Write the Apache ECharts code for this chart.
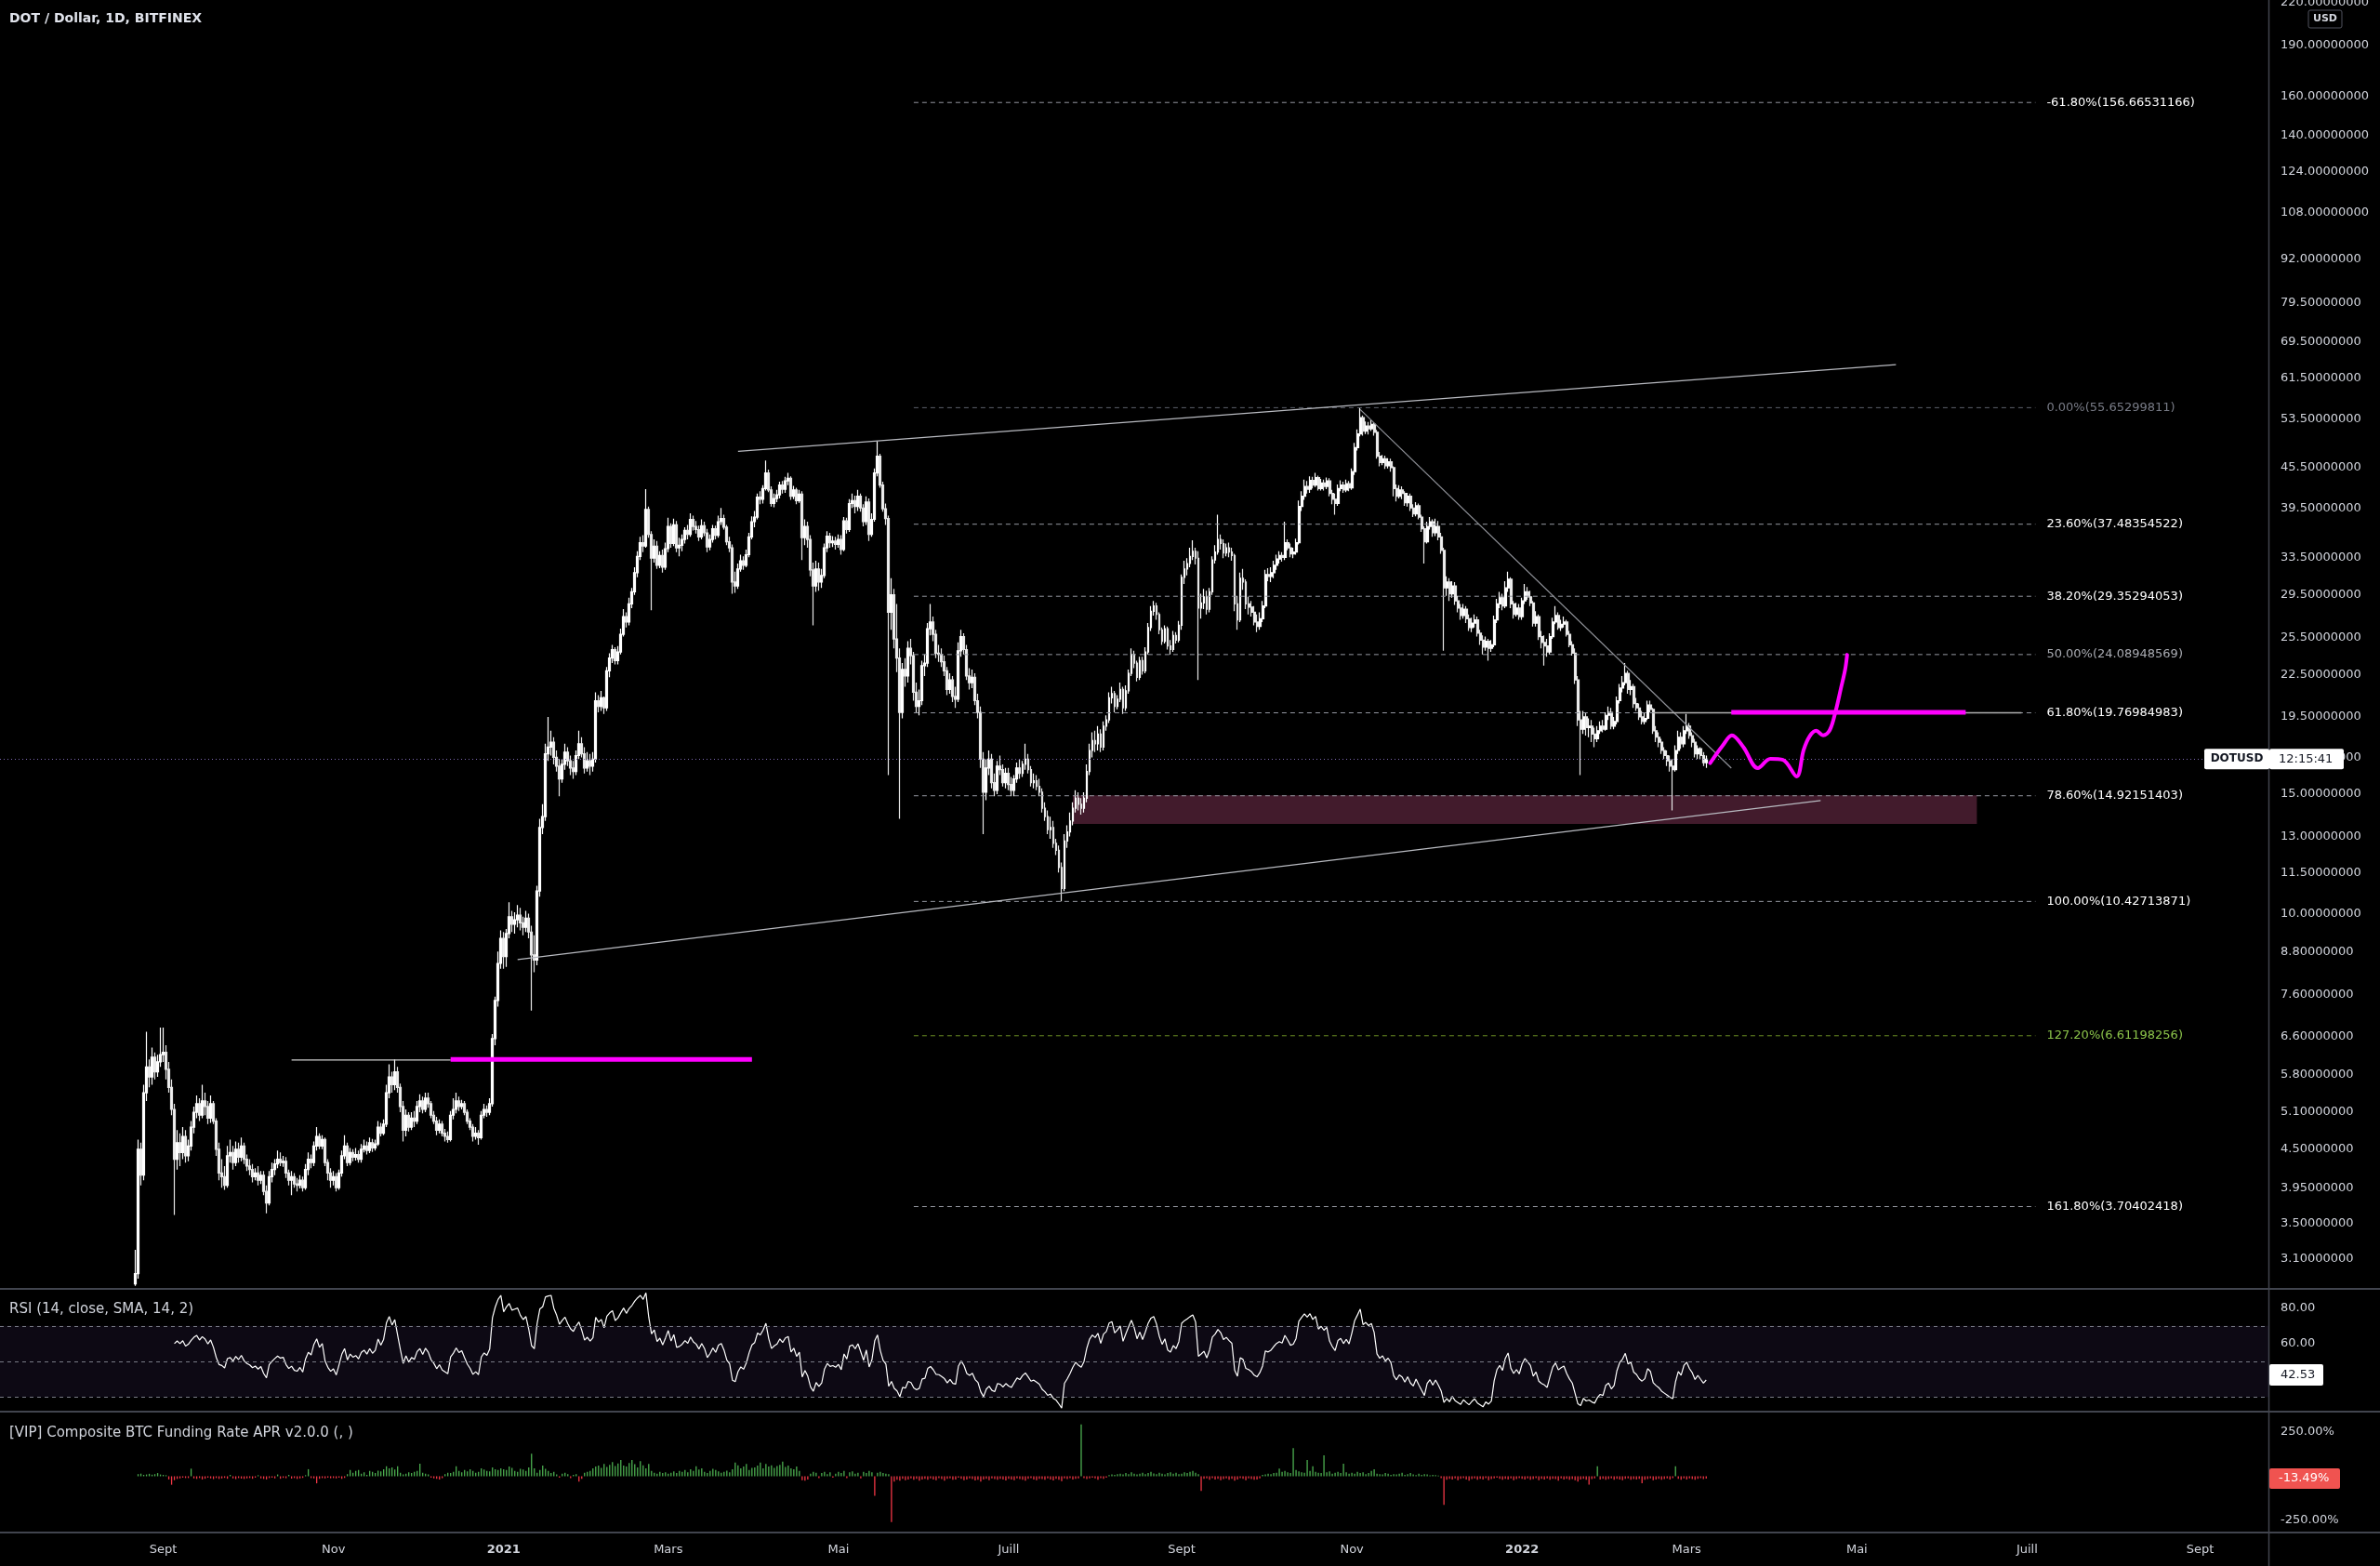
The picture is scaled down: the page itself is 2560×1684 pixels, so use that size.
<!DOCTYPE html>
<html><head><meta charset="utf-8">
<script src="https://cdn.jsdelivr.net/npm/echarts@6/dist/echarts.min.js"></script>
<style>html,body{margin:0;padding:0;background:#000;}#c{width:2560px;height:1684px;}</style>
</head><body><div id="c"></div>
<script>
// ---------- axis range / categories ----------
const START_DATE = '2020-07-05';
const N_DAYS = 813;
const FIRST_CANDLE = '2020-08-22';
const FIRST_OPEN = 2.85;
const PRICE_MIN = 2.802, PRICE_MAX = 221.8;
const RSI_MIN = 21.9, RSI_MAX = 90.8;
const FUND_MIN = -318.4, FUND_MAX = 365.8;

// ---------- daily closes / highs / lows (open = previous close) ----------
const close_2020_08 = [2.95,4.50,4.12,5.45,5.95,5.75,6.15,5.85,6.05,6.20];
const high_2020_08  = [3.20,4.65,4.60,5.60,6.70,6.10,6.35,6.25,6.20,6.80];
const low_2020_08   = [2.83,2.90,3.98,4.05,5.30,5.55,5.60,5.70,5.75,5.95];
const close_2020_09 = [6.25,5.90,5.55,5.15,4.35,4.60,4.45,4.70,4.40,4.55,4.85,5.10,5.25,5.05,5.30,5.20,5.00,5.25,4.95,4.50,4.15,4.10,3.98,4.40,4.45,4.30,4.50,4.38,4.55,4.35];
const high_2020_09  = [6.80,6.40,6.05,5.70,5.25,4.80,4.75,4.85,4.80,4.65,4.95,5.20,5.40,5.35,5.60,5.45,5.30,5.40,5.30,5.00,4.60,4.35,4.25,4.55,4.65,4.55,4.62,4.60,4.68,4.60];
const low_2020_09   = [6.05,5.70,5.45,5.05,3.60,4.20,4.25,4.35,4.30,4.32,4.48,4.75,5.00,4.95,5.00,5.05,4.90,4.92,4.90,4.40,4.05,3.95,3.92,3.95,4.30,4.20,4.25,4.30,4.32,4.28];
const close_2020_10 = [4.25,4.20,4.10,4.15,4.05,4.12,3.90,3.75,4.10,4.20,4.28,4.35,4.30,4.32,4.15,4.05,4.10,4.00,3.98,4.05,3.95,4.20,4.35,4.30,4.55,4.70,4.55,4.65,4.30,4.15,4.05];
const high_2020_10  = [4.42,4.35,4.28,4.22,4.25,4.18,4.18,3.98,4.18,4.30,4.35,4.48,4.45,4.40,4.38,4.20,4.18,4.15,4.08,4.12,4.10,4.28,4.45,4.42,4.62,4.85,4.75,4.72,4.68,4.35,4.22];
const low_2020_10   = [4.18,4.12,4.02,4.05,3.98,4.00,3.85,3.62,3.72,4.02,4.12,4.22,4.25,4.24,4.08,3.98,3.85,3.95,3.90,3.94,3.90,3.92,4.12,4.22,4.25,4.48,4.50,4.50,4.25,4.05,3.95];
const close_2020_11 = [4.10,3.95,4.15,4.40,4.55,4.30,4.45,4.38,4.42,4.35,4.50,4.55,4.48,4.60,4.52,4.58,4.85,4.75,4.90,5.45,5.75,5.60,5.85,5.55,5.20,4.80,5.05,4.85,5.00,4.95];
const high_2020_11  = [4.18,4.15,4.20,4.48,4.72,4.60,4.52,4.50,4.52,4.48,4.58,4.65,4.62,4.68,4.66,4.65,4.95,4.92,4.98,5.60,6.00,5.85,6.10,5.95,5.62,5.30,5.15,5.10,5.10,5.12];
const low_2020_11   = [3.98,3.90,3.92,4.10,4.35,4.25,4.26,4.32,4.33,4.30,4.30,4.45,4.42,4.44,4.46,4.48,4.55,4.70,4.72,4.85,5.35,5.45,5.50,5.45,5.10,4.62,4.70,4.78,4.80,4.85];
const close_2020_12 = [5.20,5.30,5.15,5.35,5.25,5.05,4.95,4.80,4.90,4.75,4.70,4.65,5.05,5.15,5.30,5.20,5.25,5.10,4.95,4.85,4.70,4.75,4.68,5.05,5.15,5.10,5.25,6.55,7.45,8.45,9.20];
const high_2020_12  = [5.30,5.42,5.38,5.45,5.45,5.30,5.12,5.02,4.98,4.95,4.82,4.78,5.12,5.35,5.45,5.38,5.32,5.30,5.15,5.00,4.90,4.85,4.80,5.12,5.25,5.22,5.35,6.65,7.55,8.80,9.45];
const low_2020_12   = [4.90,5.10,5.08,5.10,5.18,5.00,4.90,4.72,4.75,4.70,4.62,4.60,4.62,4.98,5.08,5.12,5.15,5.05,4.90,4.80,4.62,4.65,4.57,4.65,5.00,5.02,5.05,5.20,6.40,7.30,8.30];
const close_2021_01 = [8.65,9.35,9.90,9.65,9.80,9.95,9.70,9.55,9.85,9.40,8.70,8.55,10.80,13.40,13.90,17.20,17.60,17.90,17.00,16.50,15.80,16.60,17.30,16.80,16.40,16.20,17.10,17.80,17.20,16.40,16.80];
const high_2021_01  = [9.40,9.50,10.40,10.10,10.05,10.30,10.20,9.90,10.10,10.00,9.60,9.30,11.00,13.80,14.50,17.80,19.50,18.60,18.20,17.40,16.90,16.90,17.80,17.60,17.10,16.80,17.40,18.60,18.20,17.60,17.30];
const low_2021_01   = [8.30,8.35,9.20,9.40,9.35,9.55,9.45,9.30,9.40,9.20,7.20,8.20,8.40,10.60,13.10,13.70,16.80,17.10,16.60,16.20,14.90,15.60,16.30,16.50,16.00,15.80,16.00,16.90,17.00,16.10,16.20];
const close_2021_02 = [16.50,16.90,20.60,20.20,20.80,20.10,22.80,23.80,24.50,23.60,24.30,25.80,27.40,26.90,28.60,29.80,31.80,33.60,35.20,34.80,39.40,36.20,33.40,34.80,32.60,33.70,32.40,34.50];
const high_2021_02  = [17.20,17.30,21.20,21.00,21.30,20.90,23.10,24.20,24.90,24.70,24.80,26.30,28.10,27.80,29.20,30.20,32.40,34.20,35.90,36.10,42.20,39.80,36.60,35.60,35.40,34.20,34.40,35.20];
const low_2021_02   = [16.00,16.20,16.70,19.80,19.90,19.70,19.90,22.30,23.40,23.30,23.30,24.10,25.60,26.40,26.60,28.20,29.50,31.30,33.20,34.10,34.60,35.80,28.00,32.90,32.20,32.30,31.80,32.10];
const close_2021_03 = [37.20,35.10,37.40,34.60,34.90,35.60,36.70,36.20,38.10,37.20,36.80,35.90,37.30,36.40,34.70,35.60,36.90,36.10,37.80,38.20,37.10,35.30,34.60,30.80,30.40,32.20,33.10,32.60,33.80,35.90,37.80];
const high_2021_03  = [38.30,37.60,38.20,37.90,35.80,36.20,37.10,37.40,38.90,38.60,37.90,37.30,38.10,37.80,36.90,36.20,37.40,37.30,38.60,39.60,38.70,37.40,35.90,35.00,31.90,32.80,33.80,33.60,34.40,36.40,38.50];
const low_2021_03   = [34.10,34.60,34.80,34.10,33.60,34.20,35.10,35.60,35.90,36.70,36.30,35.40,35.60,36.00,34.10,34.30,35.20,35.60,35.80,37.40,36.80,34.90,34.10,29.60,29.70,30.10,31.90,32.10,32.40,33.50,35.60];
const close_2021_04 = [38.40,41.10,40.80,42.30,44.60,42.10,40.20,40.90,41.40,42.80,42.20,43.40,43.80,41.20,42.10,40.60,41.50,35.80,37.20,35.60,32.10,30.40,32.20,30.80,31.50,34.60,36.00,35.20,35.40,35.00];
const high_2021_04  = [39.20,41.60,41.90,42.80,46.50,45.10,42.60,41.60,42.10,43.30,43.40,44.00,44.60,44.10,42.70,42.40,42.10,41.90,38.10,37.80,36.10,32.90,33.10,32.90,32.20,35.10,36.60,36.40,36.00,35.90];
const low_2021_04   = [37.10,38.10,40.10,40.20,42.00,41.80,39.80,39.70,40.40,40.90,41.60,41.70,42.80,40.70,40.80,40.10,40.30,33.20,34.90,34.60,31.40,26.60,29.80,29.90,30.20,31.20,34.10,34.60,34.70,34.40];
const close_2021_05 = [35.60,34.40,37.90,36.80,40.20,40.60,39.80,41.20,39.60,37.80,40.40,36.20,38.10,44.60,47.20,42.80,39.50,38.20,27.80,29.50,25.40,23.80,19.80,22.90,22.40,24.60,24.00,21.20,20.20,20.60,23.20];
const high_2021_05  = [36.20,36.10,38.40,38.30,40.80,41.60,41.30,42.10,41.60,40.10,41.20,40.90,38.90,45.30,49.70,47.60,43.30,40.20,38.60,31.20,30.10,28.60,24.60,23.40,23.80,25.20,25.40,24.30,21.90,21.40,23.60];
const low_2021_05   = [34.60,33.80,34.20,36.30,36.50,39.60,38.90,39.20,39.10,37.20,37.40,35.40,35.90,37.80,44.10,42.40,39.10,37.40,16.00,26.20,24.60,22.70,13.80,19.40,21.60,21.90,23.30,20.60,19.80,19.60,20.30];
const close_2021_06 = [23.40,26.30,26.90,25.80,24.20,24.10,23.50,22.80,21.40,22.10,20.90,20.70,24.40,25.60,24.50,22.40,21.90,22.30,20.60,19.80,16.90,15.10,16.40,16.90,15.60,15.20,16.50,16.30,15.60,16.10];
const high_2021_06  = [24.10,26.80,28.60,27.40,26.20,24.90,24.60,24.00,23.10,22.60,22.40,21.60,25.10,26.20,25.90,24.90,23.00,22.90,22.60,21.10,20.20,17.30,16.90,17.40,17.20,16.10,16.80,17.10,16.60,16.40];
const low_2021_06   = [22.40,23.10,25.70,25.20,23.80,23.50,23.10,22.40,21.00,21.10,20.50,20.10,20.50,23.90,24.10,22.10,21.40,21.50,20.30,19.40,16.40,13.10,14.70,16.00,15.30,14.90,15.00,16.00,15.40,15.30];
const close_2021_07 = [15.50,15.20,15.80,16.40,16.10,16.60,16.90,16.30,15.60,15.70,15.40,15.10,14.30,13.90,13.30,13.40,12.70,12.40,11.70,10.90,12.80,13.20,13.70,14.30,14.80,14.50,14.30,14.80,16.20,17.40,18.00];
const high_2021_07  = [16.40,15.90,16.00,16.70,16.90,16.80,17.80,17.20,16.50,16.10,16.00,15.80,15.30,14.60,14.20,13.90,13.70,12.90,12.60,11.90,13.10,13.50,14.10,14.60,15.20,15.10,14.80,15.10,16.60,17.80,18.50];
const low_2021_07   = [15.20,14.90,14.90,15.60,15.80,15.90,16.30,16.10,15.40,15.30,15.20,14.90,14.10,13.70,13.10,12.90,12.50,12.20,11.50,10.43,10.80,12.50,13.00,13.50,14.10,14.20,14.00,14.10,14.60,16.00,17.00];
const close_2021_08 = [17.80,18.40,17.60,18.90,19.30,20.80,21.10,20.20,20.70,21.40,20.10,21.30,22.60,24.10,23.40,22.30,23.60,22.80,24.30,26.40,27.90,28.40,27.60,26.20,25.20,26.30,24.80,24.50,25.70,25.30,26.60];
const high_2021_08  = [18.60,18.90,18.70,19.20,19.60,21.20,21.60,21.30,21.00,21.90,21.60,21.70,22.90,24.60,24.40,23.60,23.90,23.90,24.70,26.80,28.40,28.90,28.70,27.80,26.40,26.60,26.50,25.30,26.10,26.00,27.00];
const low_2021_08   = [17.30,17.40,17.30,17.40,18.60,19.10,20.40,19.80,20.00,20.50,19.70,19.90,21.10,22.40,23.00,22.00,22.10,22.50,22.60,24.10,26.10,27.50,27.10,25.80,24.90,25.00,24.50,24.10,24.30,25.00,25.10];
const close_2021_09 = [31.30,32.20,32.80,33.60,34.20,33.40,28.20,28.70,29.30,28.10,29.80,33.20,34.10,35.60,35.10,34.00,34.60,34.10,33.70,28.60,27.10,31.20,30.80,28.60,28.30,27.80,26.90,26.50,27.20,28.40];
const high_2021_09  = [31.60,33.10,33.40,34.60,35.50,34.60,34.20,29.60,30.10,29.90,30.20,33.60,34.90,38.70,36.20,35.60,35.10,35.20,34.60,33.90,29.40,31.80,32.20,31.10,29.30,28.90,28.40,27.60,27.80,28.90];
const low_2021_09   = [26.20,30.60,31.50,32.40,33.20,32.70,22.10,27.20,28.10,27.60,27.80,29.50,32.80,33.80,34.40,33.40,33.60,33.50,33.10,27.90,26.20,26.90,30.00,28.10,27.60,27.40,26.60,26.00,26.20,26.90];
const close_2021_10 = [31.60,31.40,31.80,32.60,33.30,33.70,33.50,35.20,34.60,33.90,34.10,35.20,39.80,41.20,42.60,42.20,43.50,42.80,43.90,42.30,43.10,42.60,43.40,41.60,40.80,40.20,42.30,42.80,42.10,43.00,42.40];
const high_2021_10  = [32.10,32.30,32.40,33.10,33.80,34.20,34.10,37.80,35.60,35.10,34.60,35.70,40.60,41.90,43.60,43.40,44.10,44.00,44.60,44.20,43.70,43.60,43.90,43.80,42.10,41.60,42.90,43.50,43.30,43.60,43.40];
const low_2021_10   = [28.20,30.90,30.80,31.20,32.10,32.80,33.00,33.20,34.30,33.50,33.40,33.80,35.00,39.20,40.70,41.60,41.70,42.30,42.50,42.00,42.00,42.00,42.20,41.20,40.10,38.70,39.90,41.90,41.70,41.80,41.90];
const close_2021_11 = [44.80,48.60,50.90,53.80,51.40,52.30,51.80,52.60,51.20,47.20,46.20,46.80,45.70,46.30,45.40,42.30,41.20,42.10,41.60,40.30,41.20,39.60,38.80,39.90,38.40,36.90,35.30,37.20,37.80,36.40];
const high_2021_11  = [45.30,49.40,51.70,55.65,54.20,53.10,53.00,53.40,52.90,51.60,47.90,47.40,47.30,46.90,46.80,45.60,42.90,42.80,42.60,41.90,41.70,41.60,40.10,40.40,40.20,38.70,37.20,37.80,38.40,38.10];
const low_2021_11   = [42.10,44.30,48.10,50.50,50.60,50.90,50.80,51.40,50.60,46.80,45.60,45.80,45.20,45.30,44.80,41.20,40.50,40.90,40.80,39.90,39.80,39.20,38.40,38.50,38.10,36.50,32.80,35.10,36.80,35.90];
const close_2021_12 = [37.20,35.90,34.30,30.20,30.80,29.60,30.40,28.90,28.20,27.50,28.10,27.20,26.40,26.80,27.10,25.90,25.30,24.70,25.20,24.60,24.90,27.10,28.60,29.20,28.40,30.20,31.10,28.60,27.60,28.20,27.40];
const high_2021_12  = [38.20,37.90,36.40,34.60,31.40,31.20,30.90,30.80,29.40,28.60,28.60,28.40,27.60,27.30,27.60,27.40,26.20,25.70,25.60,25.40,25.30,27.50,29.10,29.80,29.60,30.90,31.90,31.30,28.90,28.70,28.60];
const low_2021_12   = [36.00,35.50,33.90,24.40,29.40,28.90,29.20,28.50,27.80,27.10,27.20,26.80,26.10,26.00,26.40,25.60,24.90,24.10,24.40,23.60,24.30,24.70,26.80,28.20,28.00,28.20,29.80,28.20,27.20,27.40,27.10];
const close_2022_01 = [28.90,29.80,29.30,28.70,26.80,27.40,25.60,25.10,24.80,24.30,25.60,26.90,27.50,26.40,26.70,26.90,25.80,24.90,24.20,22.10,19.30,18.70,19.50,18.80,18.90,18.40,18.10,18.60,18.90,18.70,19.60];
const high_2022_01  = [29.20,30.60,30.30,29.90,28.90,27.90,27.60,26.10,25.70,25.40,25.90,27.30,28.40,27.80,27.10,27.40,27.10,26.10,25.20,24.60,22.40,19.90,19.90,19.80,19.40,19.30,18.80,18.90,19.20,19.30,19.80];
const low_2022_01   = [27.10,28.60,29.00,28.40,26.50,26.50,25.30,24.60,23.20,23.90,24.10,25.40,26.70,26.20,26.10,26.40,25.60,24.70,24.00,21.80,18.90,16.00,18.40,18.30,18.20,17.90,17.60,17.90,18.40,18.50,18.60];
const close_2022_02 = [19.80,18.90,19.20,20.60,21.50,21.90,22.60,21.40,21.60,20.40,20.10,19.50,19.20,19.40,20.30,20.00,18.60,18.20,17.90,17.40,17.10,16.80,16.50,16.30,17.40,18.20,17.80,18.60];
const high_2022_02  = [20.20,20.10,19.50,20.90,21.80,22.40,23.40,22.80,22.10,21.80,20.80,20.40,19.90,19.80,20.60,20.60,20.10,18.90,18.50,18.10,17.60,17.40,17.10,16.90,17.70,18.60,18.50,18.90];
const low_2022_02   = [19.30,18.70,18.70,19.00,20.40,21.20,21.70,21.10,21.00,20.10,19.90,19.30,19.00,19.00,19.30,19.80,18.40,17.90,17.60,17.20,16.90,16.50,16.20,14.20,16.20,17.20,17.50,17.60];
const close_2022_03 = [18.90,18.30,17.90,17.20,17.50,17.10,16.70,16.90];
const high_2022_03  = [19.70,19.10,18.50,18.10,17.70,17.60,17.30,17.10];
const low_2022_03   = [18.40,18.10,17.60,17.00,16.90,16.90,16.50,16.40];

// ---------- funding rate APR (%), daily ----------
const fund_2020_08 = [0,12,15,8,10,14,9,12,18,10];
const fund_2020_09 = [8,6,-18,-48,-22,-15,-12,-8,-10,-10,43,-12,-15,-10,-18,-14,-8,-12,-16,-10,-15,-12,-9,-14,8,-12,-16,-10,-13,-15];
const fund_2020_10 = [-12,-10,-14,-8,6,-12,-15,-18,-10,-8,-12,10,-14,-9,-11,8,-13,-10,-15,-12,-9,6,40,-10,-12,-40,-14,-10,-12,-8,-11];
const fund_2020_11 = [-10,-12,-8,-14,-9,12,36,20,30,36,15,22,8,30,25,18,32,28,40,57,45,50,38,57,20,10,15,22,18,25];
const fund_2020_12 = [30,71,20,15,10,-8,-12,-15,-18,-10,12,20,18,25,57,30,22,35,28,40,30,20,25,45,38,30,28,50,40,35,45];
const fund_2021_01 = [40,35,55,48,30,25,42,38,30,50,127,45,20,35,60,42,30,18,25,10,-8,15,20,12,-10,8,12,-30,-15,20,25];
const fund_2021_02 = [30,45,55,60,48,70,52,65,80,58,72,92,60,55,75,92,68,50,85,62,45,70,30,20,15,25,18,22];
const fund_2021_03 = [15,20,28,18,30,25,35,22,40,30,57,38,45,25,18,30,42,35,28,20,25,32,22,40,78,62,45,55,70,35,48];
const fund_2021_04 = [50,60,78,45,70,55,62,48,58,65,83,52,60,45,40,55,30,-22,-25,-18,15,25,20,-10,18,25,12,22,-8,15];
const fund_2021_05 = [25,18,30,-10,22,28,15,20,-12,25,18,30,22,-110,20,25,18,15,12,-259,-30,-20,-25,-15,-22,-18,-12,-20,-15,-25,-18];
const fund_2021_06 = [-15,-20,-12,-18,-22,-10,-16,-25,-14,-12,-20,-18,-8,-15,-22,-19,-12,-16,-24,-20,-30,-18,-14,-22,-12,-16,-20,-15,-18,-24];
const fund_2021_07 = [-14,-18,-22,-12,-16,-20,-25,-15,-10,-18,-22,-14,-16,-20,-12,-18,-24,-15,-20,-28,-12,-16,-10,-18,-14,-12,293,-10,-16,-12,-8];
const fund_2021_08 = [-12,-20,-10,-15,-8,6,10,8,12,15,10,18,12,22,15,10,14,20,12,18,25,16,12,20,14,10,18,22,15,20,12];
const fund_2021_09 = [15,22,18,25,30,20,12,-83,-15,-12,-20,-10,-18,-14,-22,-16,-12,-20,-15,-25,-18,-10,-14,-22,-12,-16,-20,-18,-12,8];
const fund_2021_10 = [10,15,12,18,20,43,25,30,22,18,159,35,28,22,20,92,30,57,25,20,18,118,22,28,15,20,25,18,71,22,15];
const fund_2021_11 = [20,15,25,18,22,12,18,30,40,15,12,10,18,14,8,12,10,15,20,8,12,18,10,6,14,8,12,10,5,8];
const fund_2021_12 = [6,4,-10,-162,-20,-15,-18,-12,-22,-14,-10,-18,-25,-16,-12,-20,-14,-18,-10,-22,-16,-12,-8,-15,-20,-14,-18,-12,-22,-16,-10];
const fund_2022_01 = [-14,-18,-12,-20,-16,-10,-22,-15,-18,-12,-20,-14,-16,-25,-12,-18,-14,-20,-16,-22,-30,-18,-14,-20,-48,-16,-12,57,-18,-14,-20];
const fund_2022_02 = [-16,-12,-20,-14,-18,-22,-15,-12,-20,-16,-18,-14,-40,-20,-16,-12,-22,-18,-14,-20,-16,-12,-18,-10,57,-15,-20,-12];
const fund_2022_03 = [-18,-12,-16,-20,-14,-10,-16,-13.49];

// ---------- tick labels ----------
const priceTicks = [220,190,160,140,124,108,92,79.5,69.5,61.5,53.5,45.5,39.5,33.5,29.5,25.5,22.5,19.5,17,15,13,11.5,10,8.8,7.6,6.6,5.8,5.1,4.5,3.95,3.5,3.1];
const rsiTicks = [80, 60];
const fundTicks = [250, -250];
const monthNames = {3:'Mars',5:'Mai',7:'Juill',9:'Sept',11:'Nov'};

// ---------- fibonacci retracement ----------
const fibPct    = ['-61.80%','0.00%','23.60%','38.20%','50.00%','61.80%','78.60%','100.00%','127.20%','161.80%'];
const fibPrice  = [156.66531166,55.65299811,37.48354522,29.35294053,24.08948569,19.76984983,14.92151403,10.42713871,6.61198256,3.70402418];
const fibText   = ['#ffffff','#787b86','#ffffff','#ffffff','#a9abb2','#ffffff','#ffffff','#ffffff','#8bc34a','#ffffff'];
const fibLine   = ['#9598a1','#5d606b','#9598a1','#9598a1','#9598a1','#9598a1','#9598a1','#9598a1','#6b8e23','#9598a1'];
const fibFrom = '2021-05-28', fibTo = '2022-07-04';

// ---------- drawings (date, price) ----------
const upperChannel = [['2021-03-26',48.0],['2022-05-15',64.4]];
const lowerChannel = [['2021-01-06',8.56],['2022-04-18',14.68]];
const downTrend    = [['2021-11-04',55.3],['2022-03-17',16.39]];
const flat2020     = [['2020-10-17',6.09],['2020-12-13',6.09]];
const magenta2020  = [['2020-12-13',6.10],['2021-03-31',6.10]];
const flat2022     = [['2022-02-17',19.77],['2022-06-29',19.77]];
const magenta2022  = [['2022-03-17',19.80],['2022-06-09',19.80]];
const zoneBox      = [['2021-07-24',14.94],['2022-06-13',13.56]];
const curveDaysAfterLast = [1.4,5.9,9.2,13.3,18.5,23,27.5,32.4,34.9,37.1,39.4,41.9,44.3,46.4,48.3,49.8,50.5];
const curvePrice         = [16.67,17.69,18.32,17.61,16.39,16.91,16.85,15.93,17.42,18.26,18.6,18.32,18.65,19.89,21.5,22.9,24.07];
const lastPrice = 16.9, lastRsi = 42.53, lastFund = -13.49;

// ---------- build ----------
const FONT = '"DejaVu Sans", "Liberation Sans", sans-serif';
const startMs = Date.parse(START_DATE + 'T00:00:00Z');
const cats = [];
for (let i = 0; i < N_DAYS; i++) cats.push(new Date(startMs + i * 864e5).toISOString().slice(0, 10));
const idxOf = s => Math.round((Date.parse(s + 'T00:00:00Z') - startMs) / 864e5);

const closes = [].concat(close_2020_08,close_2020_09,close_2020_10,close_2020_11,close_2020_12,close_2021_01,close_2021_02,close_2021_03,close_2021_04,close_2021_05,close_2021_06,close_2021_07,close_2021_08,close_2021_09,close_2021_10,close_2021_11,close_2021_12,close_2022_01,close_2022_02,close_2022_03);
const highs = [].concat(high_2020_08,high_2020_09,high_2020_10,high_2020_11,high_2020_12,high_2021_01,high_2021_02,high_2021_03,high_2021_04,high_2021_05,high_2021_06,high_2021_07,high_2021_08,high_2021_09,high_2021_10,high_2021_11,high_2021_12,high_2022_01,high_2022_02,high_2022_03);
const lows = [].concat(low_2020_08,low_2020_09,low_2020_10,low_2020_11,low_2020_12,low_2021_01,low_2021_02,low_2021_03,low_2021_04,low_2021_05,low_2021_06,low_2021_07,low_2021_08,low_2021_09,low_2021_10,low_2021_11,low_2021_12,low_2022_01,low_2022_02,low_2022_03);
const funding = [].concat(fund_2020_08,fund_2020_09,fund_2020_10,fund_2020_11,fund_2020_12,fund_2021_01,fund_2021_02,fund_2021_03,fund_2021_04,fund_2021_05,fund_2021_06,fund_2021_07,fund_2021_08,fund_2021_09,fund_2021_10,fund_2021_11,fund_2021_12,fund_2022_01,fund_2022_02,fund_2022_03);

const c0 = idxOf(FIRST_CANDLE);
const candles = closes.map((c, i) => {
  const o = i ? closes[i - 1] : FIRST_OPEN;
  return [c0 + i, o, c, Math.min(lows[i], o, c), Math.max(highs[i], o, c)];
});
const lastIdx = c0 + closes.length - 1;

// RSI(14) with Wilder smoothing on the closes
function rsi(src, len) {
  const out = []; let ag = 0, al = 0;
  for (let i = 1; i < src.length; i++) {
    const ch = src[i] - src[i - 1], g = Math.max(ch, 0), l = Math.max(-ch, 0);
    if (i <= len) { ag += g / len; al += l / len; if (i < len) continue; }
    else { ag = (ag * (len - 1) + g) / len; al = (al * (len - 1) + l) / len; }
    out.push([c0 + i, al === 0 ? 100 : 100 - 100 / (1 + ag / al)]);
  }
  return out;
}
const rsiData = rsi(closes, 14);
const fundData = funding.map((v, i) => [c0 + i, v]);

function seg(pts, color, width, type, z) {
  return { type: 'line', xAxisIndex: 1, yAxisIndex: 0, data: pts.map(p => [idxOf(p[0]), p[1]]),
    symbol: 'none', silent: true, z: z || 3, lineStyle: { color, width, type: type || 'solid' } };
}

const series = [];
series.push({
  type: 'candlestick', xAxisIndex: 0, yAxisIndex: 0, data: candles, encode: { x: 0, y: [1, 2, 3, 4] },
  barWidth: 2.4, silent: true, z: 2,
  itemStyle: { color: '#ffffff', color0: '#f0f0f0', borderColor: '#ffffff', borderColor0: '#e6e6e6', borderWidth: 1.2 },
  markArea: { silent: true, itemStyle: { color: '#421b2c' },
    data: [[{ coord: [zoneBox[0][0], zoneBox[0][1]] }, { coord: [zoneBox[1][0], zoneBox[1][1]] }]] },
  markLine: { silent: true, symbol: 'none', label: { show: false },
    lineStyle: { color: '#7c68b0', type: [1, 3], width: 1 }, data: [{ yAxis: lastPrice }] }
});
fibPrice.forEach((p, i) => {
  const s = seg([[fibFrom, p], [fibTo, p]], fibLine[i], 1, [5, 4], 3);
  s.endLabel = { show: true, formatter: fibPct[i] + '(' + p.toFixed(8) + ')', color: fibText[i],
    fontSize: 13, fontFamily: FONT, distance: 12 };
  series.push(s);
});
series.push(seg(upperChannel, '#b8bac0', 1.3));
series.push(seg(lowerChannel, '#b8bac0', 1.3));
series.push(seg(downTrend, '#8f9198', 1.2));
series.push(seg(flat2020, '#d0d0d0', 1.3));
series.push(seg(flat2022, '#b0b0b0', 1.3));
series.push(seg(magenta2020, '#ff00ff', 5, 'solid', 5));
series.push(seg(magenta2022, '#ff00ff', 5, 'solid', 5));
series.push({ type: 'line', xAxisIndex: 1, yAxisIndex: 0, symbol: 'none', silent: true, z: 5, smooth: 0.35,
  data: curveDaysAfterLast.map((d, i) => [lastIdx + d, curvePrice[i]]),
  lineStyle: { color: '#ff00ff', width: 4, cap: 'round', join: 'round' } });

series.push({ type: 'line', xAxisIndex: 2, yAxisIndex: 1, data: rsiData, symbol: 'none', silent: true,
  lineStyle: { color: '#ffffff', width: 1.2 }, z: 3,
  markArea: { silent: true, itemStyle: { color: 'rgba(126,87,194,0.10)' }, data: [[{ yAxis: 70 }, { yAxis: 30 }]] },
  markLine: { silent: true, symbol: 'none', label: { show: false }, lineStyle: { color: '#787b86', type: [4, 4], width: 1 },
    data: [{ yAxis: 70 }, { yAxis: 50 }, { yAxis: 30 }] } });

series.push({ type: 'bar', xAxisIndex: 3, yAxisIndex: 2, data: fundData, barWidth: 1.3, silent: true,
  itemStyle: { color: p => (p.value[1] >= 0 ? '#4caf50' : '#f23645') } });

const hiddenCat = gi => ({ type: 'category', gridIndex: gi, data: cats, boundaryGap: true,
  axisLine: { show: false }, axisTick: { show: false }, axisLabel: { show: false }, splitLine: { show: false } });
const hiddenY = (gi, extra) => Object.assign({ gridIndex: gi, position: 'right', axisLine: { show: false },
  axisTick: { show: false }, axisLabel: { show: false }, splitLine: { show: false } }, extra);

const option = {
  backgroundColor: '#000000',
  animation: false,
  grid: [
    { left: 0, right: 120, top: 0, height: 1386 },
    { left: 0, right: 120, top: 1386, height: 132 },
    { left: 0, right: 120, top: 1518, height: 130 }
  ],
  xAxis: [
    hiddenCat(0),
    { type: 'value', gridIndex: 0, min: -0.5, max: N_DAYS - 0.5, show: false },
    hiddenCat(1),
    { type: 'category', gridIndex: 2, data: cats, boundaryGap: true,
      axisLine: { show: false }, axisTick: { show: false }, splitLine: { show: false },
      axisLabel: { show: true, margin: 12, color: '#d1d4dc', fontSize: 13, fontFamily: FONT,
        interval: (i, v) => v.slice(8) === '01' && (+v.slice(5, 7)) % 2 === 1,
        formatter: v => { const m = +v.slice(5, 7); return m === 1 ? '{y|' + v.slice(0, 4) + '}' : monthNames[m]; },
        rich: { y: { fontWeight: 'bold', color: '#d1d4dc', fontSize: 13, fontFamily: FONT } } } }
  ],
  yAxis: [
    hiddenY(0, { type: 'log', min: PRICE_MIN, max: PRICE_MAX }),
    hiddenY(1, { type: 'value', min: RSI_MIN, max: RSI_MAX }),
    hiddenY(2, { type: 'value', min: FUND_MIN, max: FUND_MAX })
  ],
  series
};

const chart = echarts.init(document.getElementById('c'), null, { width: 2560, height: 1684 });
chart.setOption(option);

// ---------- axis text, panes, value boxes ----------
const txt = (x, y, text, fill, font, align, z) => ({ type: 'text', x, y, z: z || 50,
  style: { text, fill, font, textAlign: align || 'left', align: align || 'left', textVerticalAlign: 'middle', verticalAlign: 'middle' } });
const rect = (x, y, w, h, fill, z, stroke) => ({ type: 'rect', z: z || 60, shape: { x, y, width: w, height: h, r: 2 },
  style: { fill, stroke: stroke || null, lineWidth: stroke ? 1 : 0 } });
const hline = y => ({ type: 'line', z: 40, shape: { x1: 0, y1: y, x2: 2560, y2: y }, style: { stroke: '#41444e', lineWidth: 2 } });
const g = [];
g.push(hline(1386), hline(1518), hline(1648));
g.push({ type: 'line', z: 40, shape: { x1: 2440.5, y1: 0, x2: 2440.5, y2: 1684 }, style: { stroke: '#41444e', lineWidth: 1.5 } });
const axisFont = '13px ' + FONT;
priceTicks.forEach(v => g.push(txt(2453, chart.convertToPixel({ yAxisIndex: 0 }, v), v.toFixed(8), '#d1d4dc', axisFont)));
rsiTicks.forEach(v => g.push(txt(2453, chart.convertToPixel({ yAxisIndex: 1 }, v), v.toFixed(2), '#d1d4dc', axisFont)));
fundTicks.forEach(v => g.push(txt(2453, chart.convertToPixel({ yAxisIndex: 2 }, v), v.toFixed(2) + '%', '#d1d4dc', axisFont)));
g.push(rect(2483, 11, 36, 19, '#000000', 60, '#50535e'));
g.push(txt(2501, 20.5, 'USD', '#d1d4dc', 'bold 11px ' + FONT, 'center', 61));
g.push(txt(10, 20, 'DOT / Dollar, 1D, BITFINEX', '#e0e3eb', 'bold 14px ' + FONT));
g.push(txt(10, 1408, 'RSI (14, close, SMA, 14, 2)', '#d1d4dc', '15px ' + FONT));
g.push(txt(10, 1541, '[VIP] Composite BTC Funding Rate APR v2.0.0 (, )', '#d1d4dc', '15px ' + FONT));
const yP = chart.convertToPixel({ yAxisIndex: 0 }, lastPrice);
g.push(rect(2371, yP - 11, 70, 22, '#ffffff', 60));
g.push(txt(2406, yP, 'DOTUSD', '#131722', 'bold 12px ' + FONT, 'center', 61));
g.push(rect(2441, yP - 11, 80, 22, '#ffffff', 60));
g.push(txt(2451, yP, '12:15:41', '#131722', axisFont, 'left', 61));
const yR = chart.convertToPixel({ yAxisIndex: 1 }, lastRsi);
g.push(rect(2441, yR - 11.5, 58, 23, '#ffffff', 60));
g.push(txt(2453, yR, lastRsi.toFixed(2), '#131722', axisFont, 'left', 61));
const yF = chart.convertToPixel({ yAxisIndex: 2 }, lastFund);
g.push(rect(2441, yF - 11, 76, 22, '#f05350', 60));
g.push(txt(2451, yF, lastFund.toFixed(2) + '%', '#ffffff', axisFont, 'left', 61));
chart.setOption({ graphic: g });
</script>
</body></html>
